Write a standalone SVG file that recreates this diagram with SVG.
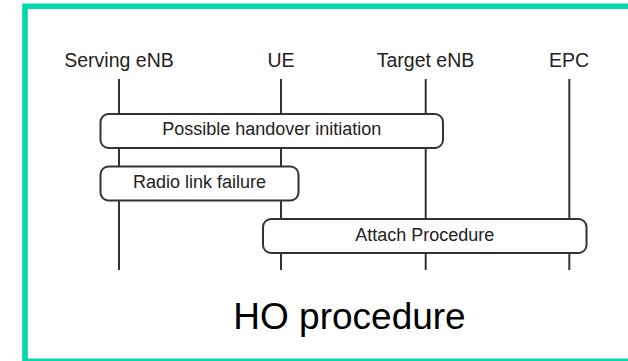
<svg xmlns="http://www.w3.org/2000/svg" width="628" height="361" viewBox="0 0 628 361">
<style>
.lbl{font-family:"Liberation Sans",Arial,sans-serif;font-size:19.5px;fill:#222;text-anchor:middle}
.btxt{font-family:"Liberation Sans",Arial,sans-serif;font-size:18px;fill:#222;text-anchor:middle}
.life{stroke:#333;stroke-width:2;fill:none}
.box{fill:#fff;stroke:#333;stroke-width:2}
.title{font-family:"Liberation Sans",Arial,sans-serif;font-size:37px;fill:#000;text-anchor:middle}
</style>
<rect x="0" y="0" width="628" height="361" fill="#fff"/>
<path d="M628 6.2 H25 V361.4 H628" fill="none" stroke="#06d6ab" stroke-width="5.6"/>
<g id="serving-enb">
<text class="lbl" x="119" y="67">Serving eNB</text>
<line class="life" x1="119" y1="79" x2="119" y2="270"/>
</g>
<g id="ue">
<text class="lbl" x="281" y="67">UE</text>
<line class="life" x1="281" y1="79" x2="281" y2="270"/>
</g>
<g id="target-enb">
<text class="lbl" x="425.5" y="67">Target eNB</text>
<line class="life" x1="425.7" y1="79" x2="425.7" y2="270"/>
</g>
<g id="epc">
<text class="lbl" x="569" y="67">EPC</text>
<line class="life" x1="569.3" y1="79" x2="569.3" y2="270"/>
</g>
<g id="connectors">
<g id="handover-initiation">
<rect class="box" x="100.5" y="114" width="342.5" height="34" rx="8"/>
<text class="btxt" x="271.7" y="135">Possible handover initiation</text>
</g>
<g id="radio-link-failure">
<rect class="box" x="100.5" y="166.5" width="198" height="34" rx="8"/>
<text class="btxt" x="199.5" y="188">Radio link failure</text>
</g>
<g id="attach-procedure">
<rect class="box" x="263" y="219" width="323.5" height="34" rx="8"/>
<text class="btxt" x="424.7" y="240.5">Attach Procedure</text>
</g>
</g>
<text class="title" x="349.5" y="329">HO procedure</text>
</svg>
